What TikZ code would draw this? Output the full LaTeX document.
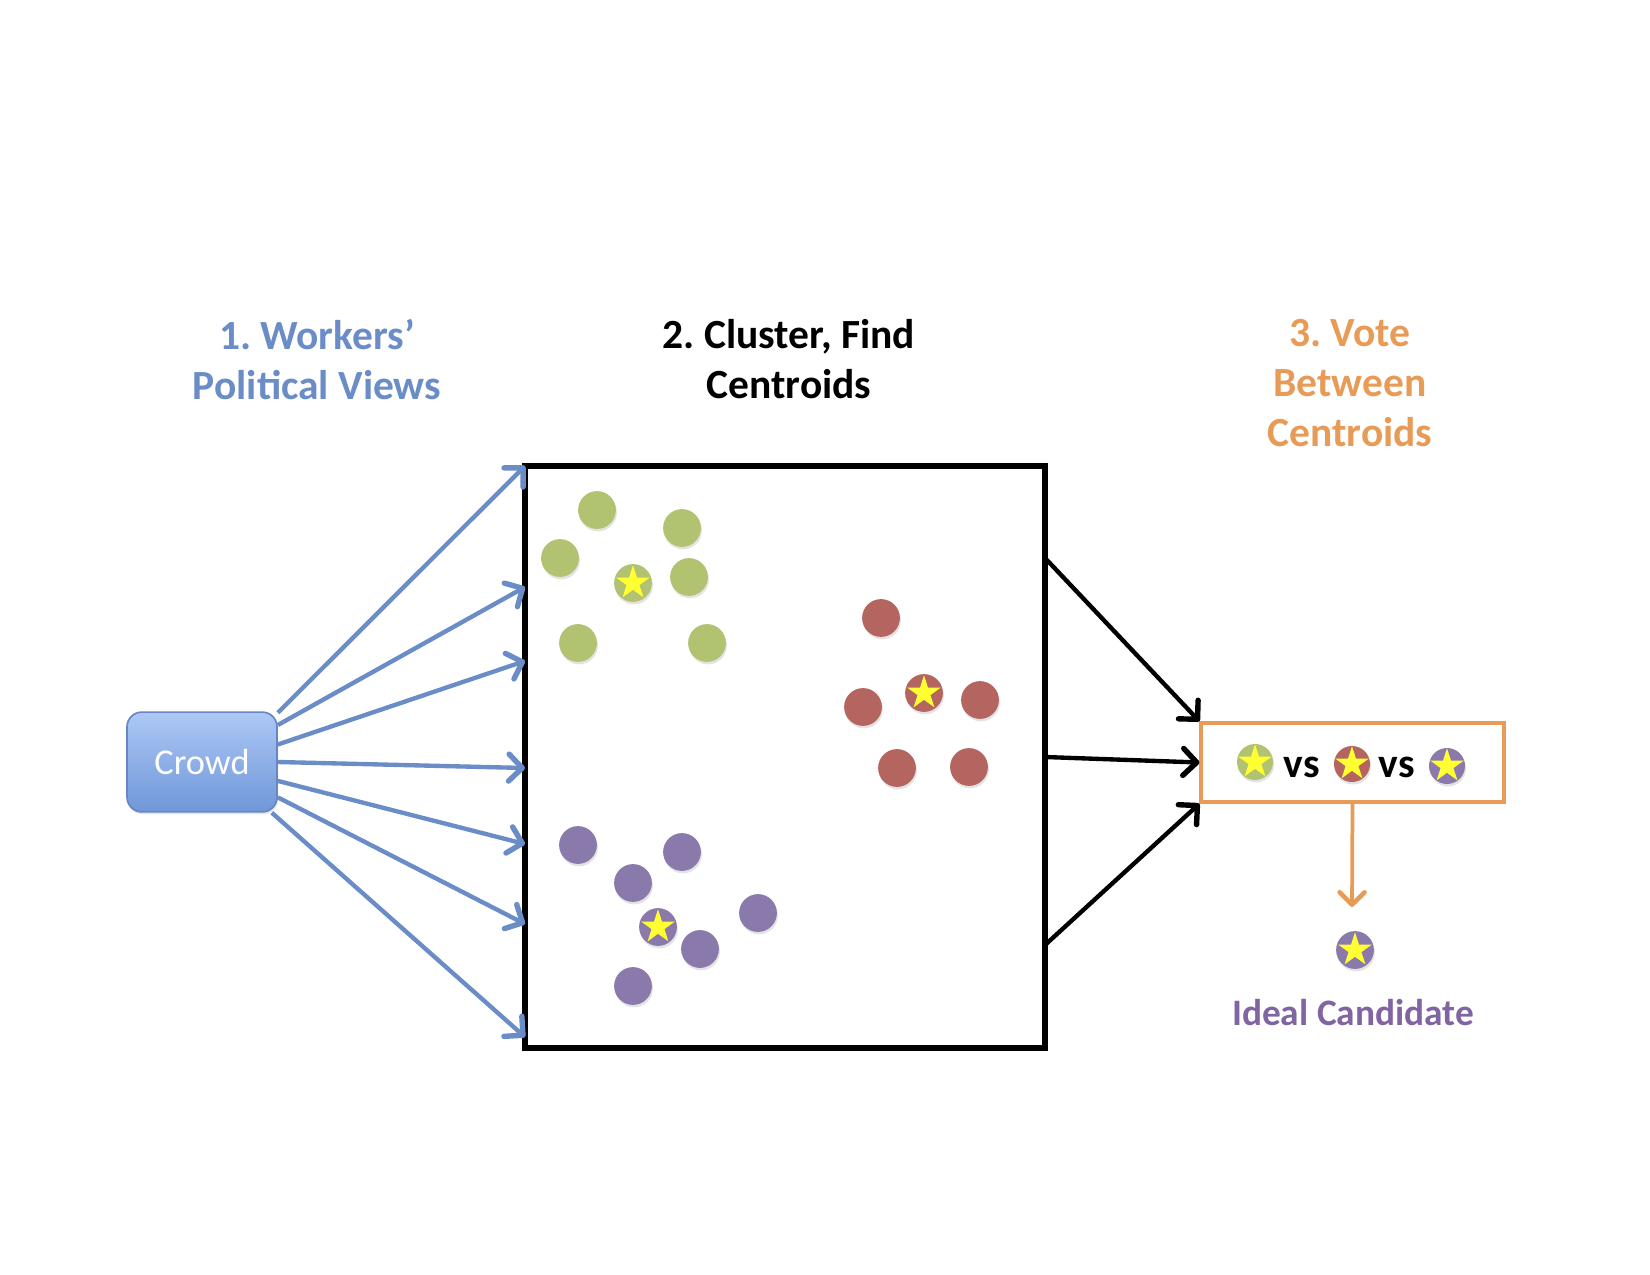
\documentclass[tikz,border=0pt]{standalone}
\usepackage{fontspec}
\setmainfont{Carlito}
\frenchspacing
\usetikzlibrary{arrows.meta,shapes.geometric,shadows}
\definecolor{viewblue}{RGB}{106,140,199}
\definecolor{crowdtop}{RGB}{172,200,246}
\definecolor{crowdbot}{RGB}{112,151,216}
\definecolor{voteorange}{RGB}{231,155,86}
\definecolor{idealpurple}{RGB}{128,101,162}
\definecolor{dotgreen}{RGB}{177,194,113}
\definecolor{dotred}{RGB}{180,101,95}
\definecolor{dotpurple}{RGB}{138,122,172}
\definecolor{staryellow}{RGB}{255,255,50}
\begin{document}
\begin{tikzpicture}[x=0.016933cm,y=-0.016933cm,
  dot/.style={circle,inner sep=0pt,minimum size=0.64cm,
    drop shadow={opacity=0.22,shadow xshift=0.5pt,shadow yshift=-1.2pt}},
  gdot/.style={dot,fill=dotgreen},
  rdot/.style={dot,fill=dotred},
  pdot/.style={dot,fill=dotpurple},
  cstar/.style={star,star points=5,star point ratio=2.618,inner sep=0pt,
    minimum size=0.6cm,fill=staryellow},
  feed/.style={-{Straight Barb[length=6.5pt,width=13pt,line width=2.6pt,round]},line width=2.1pt,viewblue},
  pass/.style={-{Straight Barb[length=6.5pt,width=13pt,line width=2.6pt,round]},line width=2.1pt,black},
  title/.style={font=\fontsize{20}{24}\selectfont\bfseries,align=center,inner sep=0pt}]
  \useasboundingbox (0,0) rectangle (1650,1275);
  % step titles
  \node[title,text=viewblue,anchor=north] (t1) at (317,319) {1. Workers’\\Political Views};
  \node[title,anchor=north] (t2) at (789,319) {2. Cluster, Find\\Centroids};
  \node[title,text=voteorange,anchor=north] (t3) at (1350,319) {3. Vote\\Between\\Centroids};
  % crowd
  \node[draw=crowdbot!90!black,line width=0.8pt,rounded corners=0.25cm,
    top color=crowdtop,bottom color=crowdbot,minimum width=2.54cm,minimum height=1.69cm,
    text=white,font=\fontsize{17.5}{20}\selectfont,
    drop shadow={opacity=0.2,shadow xshift=0.6pt,shadow yshift=-1.2pt}] (crowd) at (202,762) {Crowd};
  % cluster box
  \node[draw,line width=2.5pt,minimum width=8.805cm,minimum height=9.855cm,inner sep=0pt] (plot) at (785,757) {};
  \foreach \ang/\yy [count=\i] in {33/466,26/587,13/661,0/768,-14/844,-25/924,-36/1037} {
    \coordinate (in\i) at (525,\yy);
    \draw[feed] (crowd.\ang) -- (in\i);
  }
  % points
  \foreach \p [count=\i] in {(597,510),(682,528),(560,558),(689,577),(578,643),(707,643)}
    \node[gdot] (g\i) at \p {};
  \foreach \p [count=\i] in {(881,618),(863,707),(980,700),(897,768),(969,767)}
    \node[rdot] (r\i) at \p {};
  \foreach \p [count=\i] in {(578,845),(682,852),(633,883),(758,913),(700,949),(633,986)}
    \node[pdot] (p\i) at \p {};
  % centroids
  \node[gdot] (gc) at (633,583) {};
  \node[cstar] (gcs) at (gc) {};
  \node[rdot] (rc) at (924,693) {};
  \node[cstar] (rcs) at (rc) {};
  \node[pdot] (pc) at (658,927) {};
  \node[cstar] (pcs) at (pc) {};
  % vote
  \node[draw=voteorange,line width=1.6pt,minimum width=5.13cm,minimum height=1.34cm] (vote) at (1352.5,762.5) {};
  \coordinate (out1) at (1045,558);
  \coordinate (out2) at (1045,757);
  \coordinate (out3) at (1045,945);
  \draw[pass] (out1) -- (vote.north west);
  \draw[pass] (out2) -- (vote.west);
  \draw[pass] (out3) -- (vote.south west);
  \node[gdot,minimum size=0.61cm] (vg) at (1255,762) {};
  \node[cstar] (vgs) at (vg) {};
  \node[font=\fontsize{20}{24}\selectfont\bfseries,anchor=base,inner sep=0pt] (vs1) at (1302,777) {vs};
  \node[rdot,minimum size=0.61cm] (vr) at (1352,764) {};
  \node[cstar] (vrs) at (vr) {};
  \node[font=\fontsize{20}{24}\selectfont\bfseries,anchor=base,inner sep=0pt] (vs2) at (1397,777) {vs};
  \node[pdot,minimum size=0.61cm] (vp) at (1447,766) {};
  \node[cstar] (vps) at (vp) {};
  % winner
  \coordinate (win) at (1352,907);
  \draw[-{Straight Barb[length=6pt,width=12pt,line width=2.2pt,round]},line width=1.8pt,voteorange] (vote.south) -- (win);
  \node[pdot] (ideal) at (1355,950) {};
  \node[cstar] (ideals) at (ideal) {};
  \node[font=\fontsize{18}{22}\selectfont\bfseries,text=idealpurple,anchor=base,inner sep=0pt] (lab) at (1353,1025) {Ideal Candidate};
\end{tikzpicture}
\end{document}
